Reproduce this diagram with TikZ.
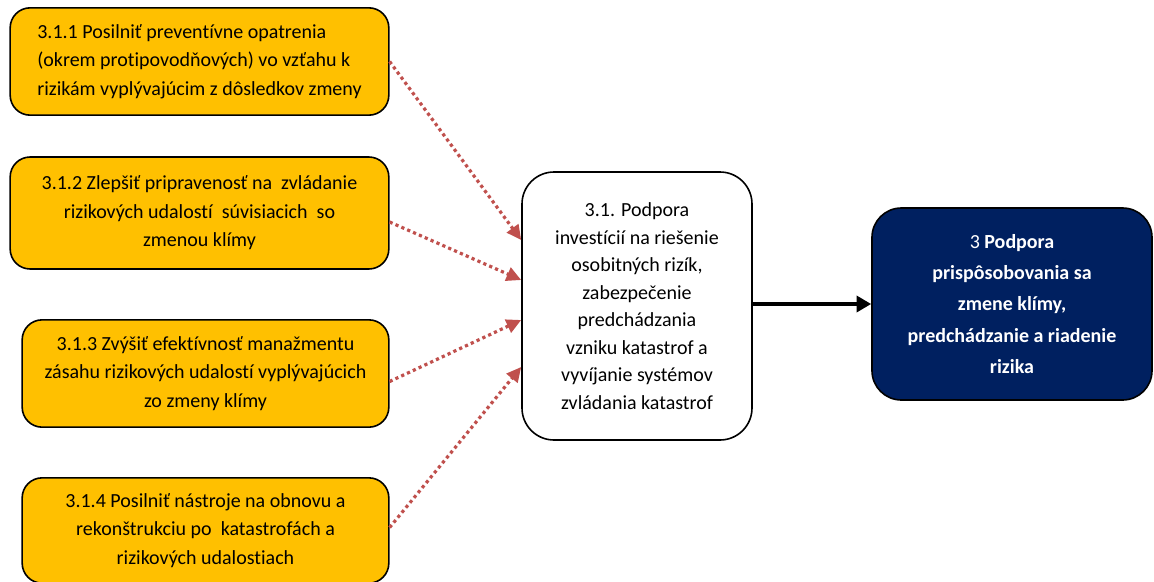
\documentclass[tikz,border=0pt]{standalone}
\usepackage{fontspec}
\setmainfont{Carlito}[Ligatures=NoCommon]
\usepackage{xcolor}
\usepackage{tikz}
\usetikzlibrary{arrows.meta,calc}
\definecolor{cGoal}{RGB}{255,192,0}
\definecolor{cLink}{RGB}{192,80,77}
\definecolor{cAxis}{RGB}{0,32,96}

\begin{document}
\begin{tikzpicture}[x=0.75pt,y=-0.75pt,
  goalbox/.style={draw=black,line width=1.2pt,fill=cGoal,rounded corners=15pt,inner sep=0pt,
    minimum width=284pt,minimum height=80.5pt,align=center,font=\fontsize{15}{21.4}\selectfont},
  linkarrow/.style={draw=cLink,line width=2.4pt,dash pattern=on 2.4pt off 2.4pt,
    -{Triangle[length=11pt,width=10.5pt]}}]
\useasboundingbox (0,0) rectangle (1154,582);
\node[goalbox,align=left] (g1) at (199.5,61.5) {3.1.1 Posilniť preventívne opatrenia\\(okrem protipovodňových) vo vzťahu k\\rizikám vyplývajúcim z dôsledkov zmeny};
\node[goalbox,minimum height=84pt] (g2) at (199.5,213) {3.1.2 Zlepšiť pripravenosť na\ \ zvládanie\\rizikových udalostí\ \ súvisiacich\ \ so\\zmenou klímy};
\node[goalbox,minimum width=275pt] (g3) at (205.5,373.5) {3.1.3 Zvýšiť efektívnosť manažmentu\\zásahu rizikových udalostí vyplývajúcich\\zo zmeny klímy};
\node[goalbox,minimum width=275pt,minimum height=79pt] (g4) at (205.5,530.5) {3.1.4 Posilniť nástroje na obnovu a\\rekonštrukciu po\ \ katastrofách a\\rizikových udalostiach};
\node[draw=black,line width=1.2pt,fill=white,rounded corners=24pt,inner sep=0pt,
  minimum width=172.5pt,minimum height=201pt,align=center,
  font=\fontsize{15}{20.6}\selectfont] (c) at (637,306) {3.1. Podpora\\investícií na riešenie\\osobitných rizík,\\zabezpečenie\\predchádzania\\vzniku katastrof a\\vyvíjanie systémov\\zvládania katastrof};
\node[draw=black,line width=1.2pt,fill=cAxis,text=white,rounded corners=22pt,inner sep=0pt,
  minimum width=210pt,minimum height=144pt,align=center,
  font=\fontsize{15}{23.5}\selectfont] (p) at (1012,304) {3 \textbf{Podpora}\\\textbf{prispôsobovania sa}\\\textbf{zmene klímy,}\\\textbf{predchádzanie a riadenie}\\\textbf{rizika}};
\draw[linkarrow] (g1.east) -- ($(c.west)+(0,-66)$);
\draw[linkarrow] ($(g2.east)+(0,9)$) -- ($(c.west)+(0,-26)$);
\draw[linkarrow] ($(g3.east)+(0,8)$) -- ($(c.west)+(0,14)$);
\draw[linkarrow] ($(g4.east)+(0,-3)$) -- ($(c.west)+(0,61)$);
\draw[line width=3pt,-{Triangle[length=11pt,width=12pt]}] ($(c.east)+(0,-2)$) -- ($(c.east -| p.west)+(0,-2)$);
\end{tikzpicture}
\end{document}
